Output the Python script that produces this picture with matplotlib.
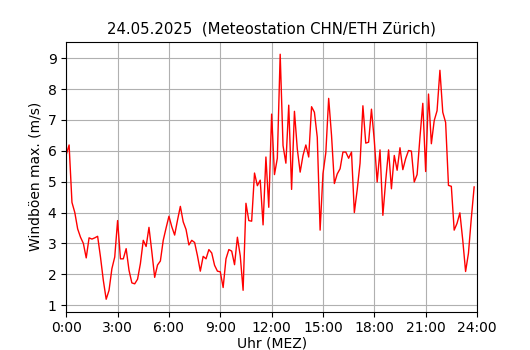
import numpy as np
import matplotlib
matplotlib.use("Agg")
import matplotlib.pyplot as plt

TITEL = "24.05.2025  (Meteostation CHN/ETH Zürich)"

# Windböen max. (m/s), 10-Minuten-Werte ab 0:00
BOEEN = [
    5.88, 6.19, 4.33, 4.00, 3.47, 3.20,   # 0:00
    3.00, 2.53, 3.18, 3.14, 3.18, 3.23,   # 1:00
    2.56, 1.80, 1.19, 1.48, 2.18, 2.56,   # 2:00
    3.74, 2.50, 2.50, 2.83, 2.13, 1.72,   # 3:00
    1.69, 1.84, 2.35, 3.10, 2.90, 3.52,   # 4:00
    2.73, 1.90, 2.30, 2.43, 3.10, 3.50,   # 5:00
    3.88, 3.54, 3.27, 3.75, 4.20, 3.70,   # 6:00
    3.45, 2.95, 3.10, 3.03, 2.60, 2.10,   # 7:00
    2.58, 2.50, 2.80, 2.69, 2.29, 2.10,   # 8:00
    2.08, 1.57, 2.50, 2.80, 2.75, 2.31,   # 9:00
    3.20, 2.60, 1.48, 4.30, 3.74, 3.72,   # 10:00
    5.28, 4.87, 5.05, 3.60, 5.80, 4.17,   # 11:00
    7.19, 5.23, 5.76, 9.13, 6.17, 5.60,   # 12:00
    7.48, 4.75, 7.28, 6.06, 5.31, 5.85,   # 13:00
    6.19, 5.80, 7.43, 7.25, 6.44, 3.43,   # 14:00
    5.26, 5.94, 7.70, 6.50, 4.94, 5.25,   # 15:00
    5.42, 5.96, 5.96, 5.76, 5.96, 4.00,   # 16:00
    4.74, 5.60, 7.46, 6.25, 6.28, 7.35,   # 17:00
    6.33, 4.99, 6.03, 3.91, 5.04, 6.03,   # 18:00
    4.77, 5.85, 5.37, 6.10, 5.39, 5.75,   # 19:00
    6.01, 5.99, 4.99, 5.23, 6.44, 7.54,   # 20:00
    5.33, 7.84, 6.23, 6.98, 7.30, 8.61,   # 21:00
    7.25, 6.92, 4.88, 4.85, 3.43, 3.65,   # 22:00
    3.99, 3.11, 2.09, 2.68, 3.81, 4.83,   # 23:00
]
STUNDEN = np.arange(len(BOEEN)) / 6.0   # Stunden seit Mitternacht

TICKS = [0, 3, 6, 9, 12, 15, 18, 21, 24]
TICK_LABELS = [f"{h}:00" for h in TICKS]

fig, ax = plt.subplots(figsize=(5.3, 3.5), dpi=100)
ax.plot(STUNDEN, BOEEN, color="red", linewidth=1.0)
ax.set_xlim(0, 24)
ax.set_xticks(TICKS)
ax.set_xticklabels(TICK_LABELS)
ax.grid(True)
ax.set_title(TITEL, fontsize=10.7)
ax.set_xlabel("Uhr (MEZ)", labelpad=1)
ax.set_ylabel("Windböen max. (m/s)")
fig.savefig("out.png", facecolor="white")
